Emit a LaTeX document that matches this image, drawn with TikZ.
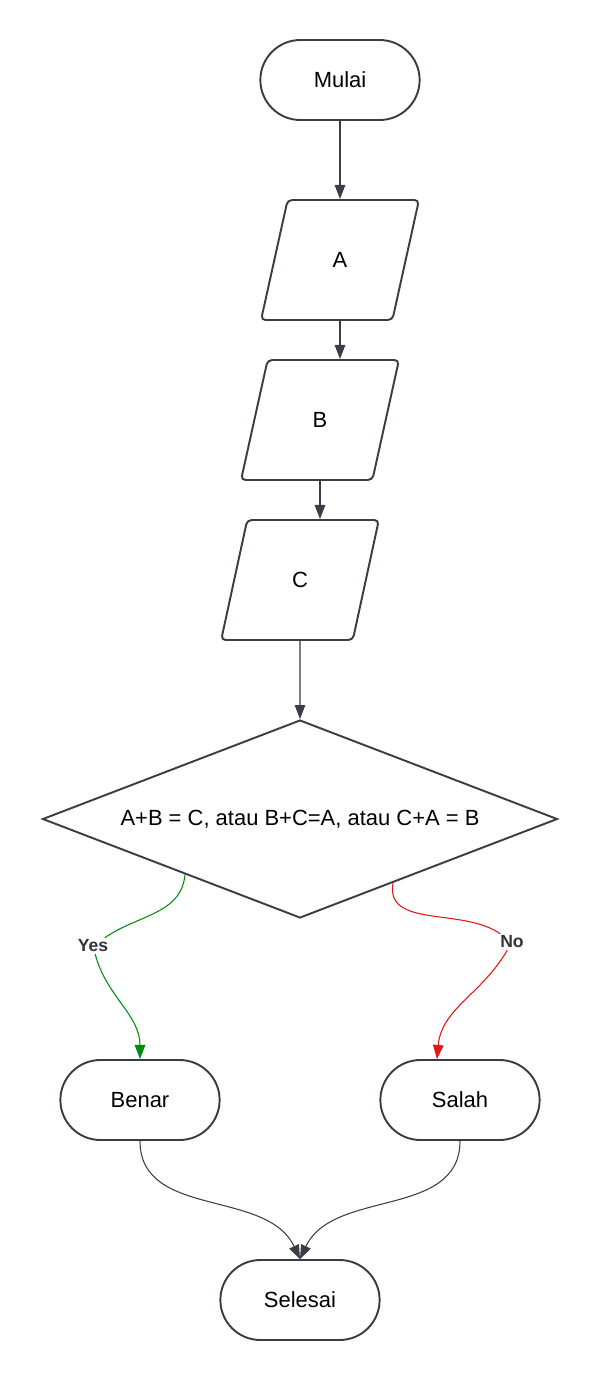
\documentclass[tikz,border=0pt]{standalone}
\usepackage{fontspec}
\setmainfont{Liberation Sans}
\usetikzlibrary{arrows.meta, shapes.geometric, shapes.misc, calc}
\definecolor{edge}{HTML}{3A3D47}
\definecolor{yesgreen}{HTML}{008A0E}
\definecolor{nored}{HTML}{E31515}

\begin{document}
\begin{tikzpicture}[x=0.02cm, y=-0.02cm,
    every node/.style={font=\fontsize{12.5}{15}\selectfont},
    term/.style={draw=edge, line width=1.1pt, rounded rectangle, minimum width=3.42cm, minimum height=1.6cm},
    io/.style={draw=edge, line width=1.1pt, trapezium, trapezium left angle=76, trapezium right angle=104,
        trapezium stretches=true, minimum width=3.16cm, minimum height=2.4cm, rounded corners=2.5pt},
    decide/.style={draw=edge, line width=1.1pt, diamond, aspect=2.6, minimum width=10.3cm, minimum height=3.96cm, inner sep=0pt},
    flow/.style={draw=edge, line width=0.6pt, -{Triangle[length=8pt,width=6pt]}},
    lbl/.style={font=\fontsize{10}{12}\selectfont\bfseries, text=black!80, inner sep=1pt}]
\useasboundingbox (0,0) rectangle (600,1380);

% nodes
\node[term] (mulai) at (340,80) {Mulai};
\node[io] (a) at (340,260) {A};
\node[io] (b) at (320,420) {B};
\node[io] (c) at (300,580) {C};
\node[decide] (cek) at (300,819) {A+B = C, atau B+C=A, atau C+A = B};
\node[term] (benar) at (140,1100) {Benar};
\node[term] (salah) at (460,1100) {Salah};
\node[term] (selesai) at (300,1300) {Selesai};
\node[lbl] (yes) at (93,946) {Yes};
\node[lbl] (no) at (512,942) {No};

% straight flow
\draw[flow] (mulai.south) -- (mulai.south |- a.north);
\draw[flow] (a.south) -- (a.south |- b.north);
\draw[flow] (b.south) -- (b.south |- c.north);
\draw[flow] (c.south) -- (cek.north);

% branches
\coordinate (ys) at ($(cek.west)!0.555!(cek.south)$);
\coordinate (ns) at ($(cek.south)!0.36!(cek.east)$);
\coordinate (st) at ($(salah.north)+(-23,0)$);
\draw[yesgreen, line width=0.6pt] (ys) to[out=-95, in=35] (yes);
\draw[flow, draw=yesgreen] (yes) to[out=-75, in=90] (benar.north);
\draw[nored, line width=0.6pt] (ns) to[out=-100, in=145] (no);
\draw[flow, draw=nored] (no) to[out=-120, in=85] (st);

% merge
\draw[flow] (benar.south) to[out=-90, in=115] (selesai.north);
\draw[flow] (salah.south) to[out=-90, in=65] (selesai.north);
\end{tikzpicture}
\end{document}
